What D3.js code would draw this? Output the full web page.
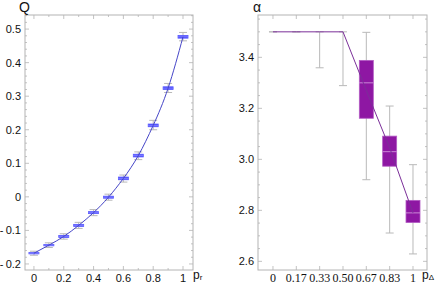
<!DOCTYPE html>
<html>
<head>
<meta charset="utf-8">
<script src="https://cdn.jsdelivr.net/npm/d3@7"></script>
<style>
	body { margin: 0; background: #fff; }
	svg { display: block; }
	text { font-family: "Liberation Sans", Arial, sans-serif; fill: #111; }
</style>
</head>
<body>
<svg id="chart" width="436" height="284"></svg>
<script>
/* global d3 */

// linkes Panel: Q über p_r
var pR = [0, 0.1, 0.2, 0.3, 0.4, 0.5, 0.6, 0.7, 0.8, 0.9, 1];
var qMed = [-0.168, -0.144, -0.118, -0.085, -0.047, -0.001, 0.055, 0.123, 0.213, 0.324, 0.477];
var qBoxLo = [-0.170, -0.146, -0.121, -0.088, -0.050, -0.004, 0.051, 0.119, 0.209, 0.320, 0.473];
var qBoxHi = [-0.166, -0.142, -0.115, -0.082, -0.044, 0.002, 0.059, 0.127, 0.217, 0.328, 0.481];
var qMin = [-0.174, -0.151, -0.126, -0.094, -0.056, -0.010, 0.044, 0.111, 0.200, 0.311, 0.465];
var qMax = [-0.162, -0.137, -0.110, -0.076, -0.038, 0.008, 0.065, 0.134, 0.228, 0.338, 0.490];
var qYTicks = [-0.2, -0.1, 0, 0.1, 0.2, 0.3, 0.4, 0.5];
var qYLabels = ['-\u20090.2', '-\u20090.1', '0', '0.1', '0.2', '0.3', '0.4', '0.5'];
var qXTicks = [0, 0.2, 0.4, 0.6, 0.8, 1];
var qXLabels = ['0', '0.2', '0.4', '0.6', '0.8', '1'];

// rechtes Panel: alpha über p_Delta
var pD = [0, 1 / 6, 2 / 6, 3 / 6, 4 / 6, 5 / 6, 1];
var aMean = [3.5, 3.5, 3.5, 3.5, 3.27, 3.045, 2.79];
var aMed = [3.5, 3.5, 3.5, 3.5, 3.30, 3.03, 2.79];
var aBoxLo = [3.5, 3.5, 3.5, 3.5, 3.161, 2.973, 2.752];
var aBoxHi = [3.5, 3.5, 3.5, 3.5, 3.388, 3.091, 2.839];
var aMin = [3.5, 3.5, 3.359, 3.289, 2.92, 2.711, 2.629];
var aMax = [3.5, 3.5, 3.5, 3.5, 3.498, 3.209, 2.979];
var aYTicks = [2.6, 2.8, 3.0, 3.2, 3.4];
var aYLabels = ['2.6', '2.8', '3.0', '3.2', '3.4'];
var aXLabels = ['0', '0.17', '0.33', '0.50', '0.67', '0.83', '1'];

var svg = d3.select('#chart');
var frameColor = '#b4b4b4';

function rangeStep (a, b, s) {
	var out = [];
	for (var v = a; v <= b + 1e-9; v += s) out.push(+v.toFixed(6));
	return out;
}

// Rahmen mit Ticks nach innen, wie Mathematica
function drawFrame (g, x, y, xMajor, xMinor, yMajor, yMinor) {
	var x0 = x.range()[0], x1 = x.range()[1];
	var y0 = y.range()[0], y1 = y.range()[1];
	g.append('rect')
		.attr('x', x0).attr('y', y1)
		.attr('width', x1 - x0).attr('height', y0 - y1)
		.attr('fill', 'none').attr('stroke', frameColor).attr('stroke-width', 1);
	var t = g.append('g').attr('stroke', frameColor).attr('stroke-width', 0.8);
	function xt (vals, len) {
		vals.forEach(function (v) {
			var px = x(v);
			t.append('line').attr('x1', px).attr('x2', px).attr('y1', y0).attr('y2', y0 - len);
			t.append('line').attr('x1', px).attr('x2', px).attr('y1', y1).attr('y2', y1 + len);
		});
	}
	function yt (vals, len) {
		vals.forEach(function (v) {
			var py = y(v);
			t.append('line').attr('y1', py).attr('y2', py).attr('x1', x0).attr('x2', x0 + len);
			t.append('line').attr('y1', py).attr('y2', py).attr('x1', x1).attr('x2', x1 - len);
		});
	}
	xt(xMajor, 4); xt(xMinor, 2);
	yt(yMajor, 4); yt(yMinor, 2);
}

function drawBoxes (g, x, y, xs, med, lo, hi, mn, mx, halfW, fill, edge, medColor) {
	xs.forEach(function (v, i) {
		var cx = x(v);
		var w = g.append('g').attr('stroke', '#b9b9b9').attr('stroke-width', 1);
		w.append('line').attr('x1', cx).attr('x2', cx).attr('y1', y(mx[i])).attr('y2', y(mn[i]));
		w.append('line').attr('x1', cx - 4).attr('x2', cx + 4).attr('y1', y(mx[i])).attr('y2', y(mx[i]));
		w.append('line').attr('x1', cx - 4).attr('x2', cx + 4).attr('y1', y(mn[i])).attr('y2', y(mn[i]));
		if (hi[i] > lo[i]) {
			g.append('rect')
				.attr('x', cx - halfW).attr('y', y(hi[i]))
				.attr('width', 2 * halfW).attr('height', Math.max(y(lo[i]) - y(hi[i]), 1))
				.attr('fill', fill).attr('stroke', edge).attr('stroke-width', 0.8);
			g.append('line')
				.attr('x1', cx - halfW).attr('x2', cx + halfW)
				.attr('y1', y(med[i])).attr('y2', y(med[i]))
				.attr('stroke', medColor).attr('stroke-width', 0.8);
		}
	});
}

// ---- linkes Panel ----
var xL = d3.scaleLinear().domain([-0.06, 1.067]).range([25, 193]);
var yL = d3.scaleLinear().domain([-0.218, 0.542]).range([270, 15]);
var gL = svg.append('g');
drawFrame(gL, xL, yL, qXTicks, rangeStep(0.1, 0.9, 0.2), qYTicks, rangeStep(-0.2, 0.54, 0.02).filter(function (v) { return qYTicks.indexOf(v) < 0; }));

drawBoxes(gL, xL, yL, pR, qMed, qBoxLo, qBoxHi, qMin, qMax, 5, '#4646ff', '#5a5aff', '#8c8cff');

gL.append('path')
	.datum(pR.map(function (v, i) { return [v, qMed[i]]; }))
	.attr('d', d3.line().x(function (d) { return xL(d[0]); }).y(function (d) { return yL(d[1]); }).curve(d3.curveNatural))
	.attr('fill', 'none').attr('stroke', '#4646c8').attr('stroke-width', 1);

gL.selectAll('.ylab').data(qYTicks).enter().append('text')
	.attr('x', 21).attr('y', function (d) { return yL(d) + 4; })
	.attr('text-anchor', 'end').attr('font-size', 11)
	.text(function (d, i) { return qYLabels[i]; });
gL.selectAll('.xlab').data(qXTicks).enter().append('text')
	.attr('x', function (d) { return xL(d); }).attr('y', 282)
	.attr('text-anchor', 'middle').attr('font-size', 11)
	.text(function (d, i) { return qXLabels[i]; });
gL.append('text').attr('x', 19).attr('y', 12).attr('font-size', 14).text('Q');
var prLab = gL.append('text').attr('x', 193).attr('y', 279).attr('font-size', 12);
prLab.append('tspan').text('p');
prLab.append('tspan').attr('font-size', 8).attr('dy', 1).text('r');

// ---- rechtes Panel ----
var xR = d3.scaleLinear().domain([-0.107, 1.1]).range([258, 427]);
var yR = d3.scaleLinear().domain([2.566, 3.566]).range([270, 15]);
var gR = svg.append('g');
drawFrame(gR, xR, yR, pD, [], aYTicks, rangeStep(2.6, 3.55, 0.05).filter(function (v) { return aYTicks.indexOf(v) < 0; }));

drawBoxes(gR, xR, yR, pD, aMed, aBoxLo, aBoxHi, aMin, aMax, 7, '#8e17a3', '#b35cc4', '#dba6e4');

// Mittelwert-Linie liegt im Original über den Boxen
gR.append('path')
	.datum(pD.map(function (v, i) { return [v, aMean[i]]; }))
	.attr('d', d3.line().x(function (d) { return xR(d[0]); }).y(function (d) { return yR(d[1]); }))
	.attr('fill', 'none').attr('stroke', '#7b2f99').attr('stroke-width', 1);

gR.selectAll('.ylab').data(aYTicks).enter().append('text')
	.attr('x', 254).attr('y', function (d) { return yR(d) + 4; })
	.attr('text-anchor', 'end').attr('font-size', 11)
	.text(function (d, i) { return aYLabels[i]; });
gR.selectAll('.xlab').data(pD).enter().append('text')
	.attr('x', function (d) { return xR(d); }).attr('y', 282)
	.attr('text-anchor', 'middle').attr('font-size', 12)
	.style('font-family', '"Liberation Serif", serif')
	.text(function (d, i) { return aXLabels[i]; });
gR.append('text').attr('x', 253).attr('y', 12).attr('font-size', 14).text('α');
var pdLab = gR.append('text').attr('x', 422).attr('y', 279).attr('font-size', 12);
pdLab.append('tspan').text('p');
pdLab.append('tspan').attr('font-size', 8).attr('dy', 1).text('Δ');
</script>
</body>
</html>
